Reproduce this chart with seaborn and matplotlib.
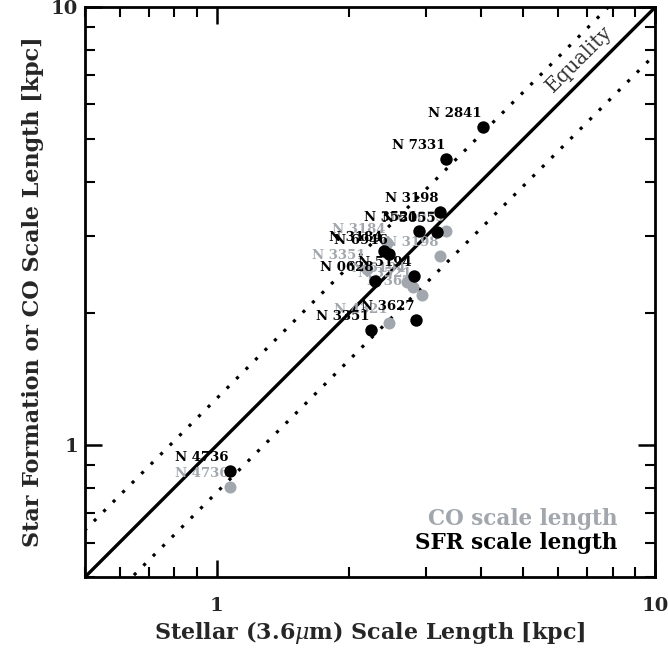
import numpy as np
import pandas as pd
import matplotlib
matplotlib.use("Agg")
import matplotlib.pyplot as plt
import matplotlib.ticker as mticker
import seaborn as sns

# ---- data (kpc) ----
sfr_names = ["N 2841", "N 7331", "N 3198", "N 3521", "N 5055", "N 3184",
             "N 6946", "N 5194", "N 0628", "N 3627", "N 3351", "N 4736"]
sfr_star = [4.05, 3.34, 3.22, 2.89, 3.17, 2.40, 2.47, 2.81, 2.29, 2.84, 2.25, 1.07]
sfr_len = [5.32, 4.50, 3.41, 3.09, 3.07, 2.78, 2.73, 2.44, 2.37, 1.93, 1.83, 0.873]

co_names = ["N 5055", "N 3184", "N 3198", "N 3351", "N 5194", "N 3521",
            "N 3627", "N 4321", "N 4736"]
co_star = [3.34, 2.44, 3.22, 2.20, 2.72, 2.80, 2.93, 2.47, 1.07]
co_len = [3.09, 2.89, 2.70, 2.53, 2.36, 2.30, 2.20, 1.90, 0.803]

band_factor = 1.28
limits = [0.5, 10]

GRAY = "#a2a7ad"

sns.set_theme(style="ticks")
plt.rcParams["font.family"] = ["DejaVu Serif", "DejaVu Sans"]
plt.rcParams["mathtext.fontset"] = "dejavuserif"

fig = plt.figure(figsize=(6.68, 6.50), dpi=100)
ax = fig.add_axes([0.127, 0.112, 0.854, 0.877])

co_df = pd.DataFrame({"star": co_star, "len": co_len, "name": co_names})
sfr_df = pd.DataFrame({"star": sfr_star, "len": sfr_len, "name": sfr_names})

# reference lines
xs = np.array([0.2, 30.0])
ax.plot(xs, xs, color="black", lw=2.4, zorder=1)
ax.plot(xs, xs * band_factor, color="black", lw=2.3, ls=(0, (1, 3.2)), zorder=1)
ax.plot(xs, xs / band_factor, color="black", lw=2.3, ls=(0, (1, 3.2)), zorder=1)

sns.scatterplot(data=co_df, x="star", y="len", ax=ax, color=GRAY, s=75,
                edgecolor=GRAY, linewidth=0, zorder=3, legend=False)
sns.scatterplot(data=sfr_df, x="star", y="len", ax=ax, color="black", s=80,
                edgecolor="black", linewidth=0, zorder=4, legend=False)

for _, r in co_df.iterrows():
    ax.annotate(r["name"], (r["star"], r["len"]), xytext=(-1, 5),
                textcoords="offset points", ha="right", va="bottom",
                fontsize=9.5, fontweight="bold", color=GRAY, zorder=3)
for _, r in sfr_df.iterrows():
    ax.annotate(r["name"], (r["star"], r["len"]), xytext=(-1, 5),
                textcoords="offset points", ha="right", va="bottom",
                fontsize=9.5, fontweight="bold", color="black", zorder=4)

ax.text(6.7, 7.6, "Equality", rotation=45, rotation_mode="anchor",
        ha="center", va="center", fontsize=14.5, color="#333333")

ax.text(0.933, 0.102, "CO scale length", transform=ax.transAxes,
        ha="right", va="center", fontsize=15.5, fontweight="bold", color=GRAY)
ax.text(0.933, 0.060, "SFR scale length", transform=ax.transAxes,
        ha="right", va="center", fontsize=15.5, fontweight="bold", color="black")

ax.set_xscale("log")
ax.set_yscale("log")
ax.set_xlim(limits)
ax.set_ylim(limits)

fmt = mticker.FuncFormatter(lambda v, _: f"{v:g}")
for axis in (ax.xaxis, ax.yaxis):
    axis.set_major_locator(mticker.LogLocator(base=10, numticks=5))
    axis.set_major_formatter(fmt)
    axis.set_minor_locator(mticker.LogLocator(base=10, subs=np.arange(2, 10), numticks=20))
    axis.set_minor_formatter(mticker.NullFormatter())

ax.tick_params(which="both", direction="in", top=True, right=True, color="black")
ax.tick_params(which="major", length=12, width=1.8, labelsize=14)
ax.tick_params(axis="x", which="major", pad=14)
ax.tick_params(axis="y", which="major", pad=5)
ax.tick_params(which="minor", length=7, width=1.5)
for lab in ax.get_xticklabels() + ax.get_yticklabels():
    lab.set_fontweight("bold")
for sp in ax.spines.values():
    sp.set_linewidth(2.0)
    sp.set_color("black")

ax.set_xlabel(r"Stellar (3.6$\mu$m) Scale Length [kpc]", fontsize=16,
              fontweight="bold", labelpad=3)
ax.set_ylabel("Star Formation or CO Scale Length [kpc]", fontsize=16,
              fontweight="bold", labelpad=5)

fig.savefig("out.png", dpi=100)
